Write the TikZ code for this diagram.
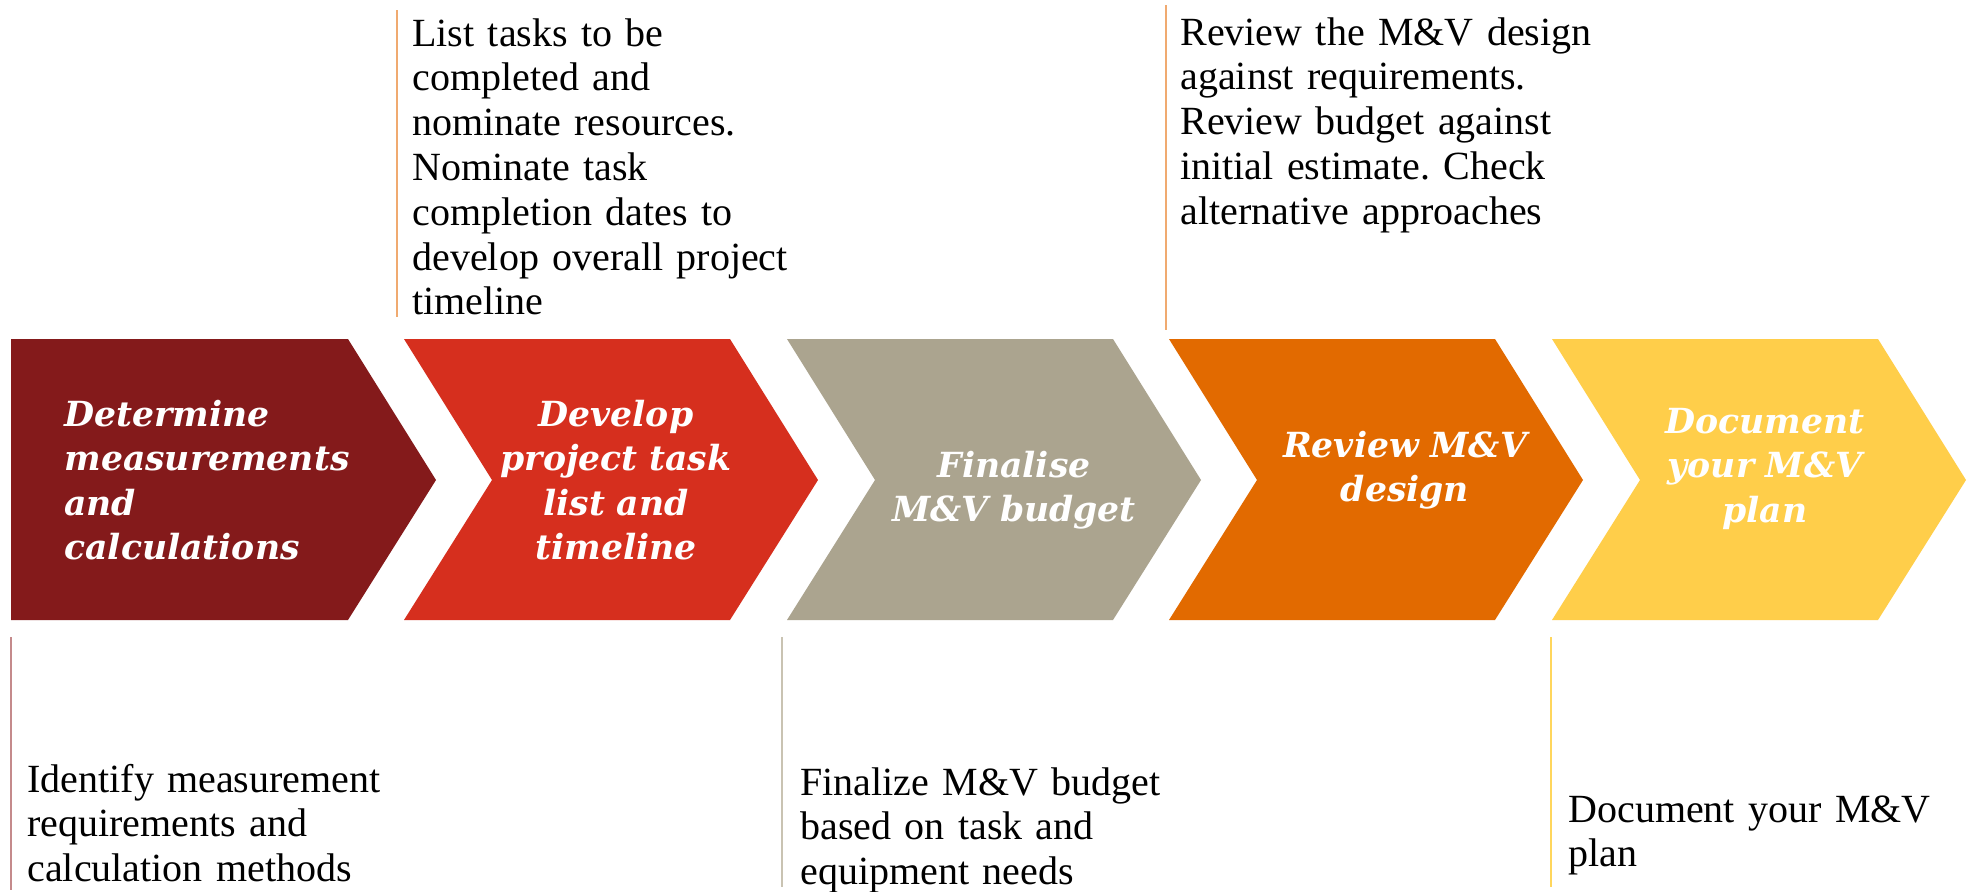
\documentclass[tikz,border=0pt]{standalone}
\usepackage{fontspec}
\setmainfont{Liberation Serif}
\newfontfamily\arrowfont{DejaVu Serif}
\definecolor{cA}{HTML}{841A1B}
\definecolor{cB}{HTML}{D62F1E}
\definecolor{cC}{HTML}{ABA48F}
\definecolor{cD}{HTML}{E26A00}
\definecolor{cE}{HTML}{FFCE4A}
\definecolor{lnOrange}{HTML}{F0AA70}
\definecolor{lnMaroon}{HTML}{C48A8B}
\definecolor{lnGrey}{HTML}{C9C3B2}
\definecolor{lnYellow}{HTML}{FFD65C}
\tikzset{
  bodytext/.style={inner sep=0pt, text width=210pt, align=left, text=black,
    font=\frenchspacing\fontsize{20pt}{22.4pt}\selectfont},
  arrowtext/.style={inner sep=0pt, text width=170pt, text=white,
    font=\frenchspacing\arrowfont\bfseries\itshape\fontsize{17.3pt}{22.25pt}\selectfont},
  guide/.style={line width=1pt}
}
\begin{document}
\begin{tikzpicture}[x=0.5pt,y=-0.5pt]
\useasboundingbox[fill=white] (0,0) rectangle (1967,891);
% chevrons
\fill[cA] (11,339) -- (348,339) -- (436,480) -- (348,620) -- (11,620) -- cycle;
\fill[cB] (404,339) -- (730,339) -- (818,480) -- (730,620) -- (404,620) -- (492,480) -- cycle;
\fill[cC] (787,339) -- (1113,339) -- (1201,480) -- (1113,620) -- (787,620) -- (875,480) -- cycle;
\fill[cD] (1169,339) -- (1495,339) -- (1583,480) -- (1495,620) -- (1169,620) -- (1257,480) -- cycle;
\fill[cE] (1552,339) -- (1878,339) -- (1966,480) -- (1878,620) -- (1552,620) -- (1640,480) -- cycle;
% guide lines
\draw[guide, lnOrange] (397,10) -- (397,317);
\draw[guide, lnOrange] (1166,5) -- (1166,330);
\draw[guide, lnMaroon] (11,637) -- (11,890);
\draw[guide, lnGrey] (782,637) -- (782,887);
\draw[guide, lnYellow] (1551,637) -- (1551,887);
% chevron labels
\node[arrowtext, align=left, anchor=base west] (n1) at (64,426)
  {Determine\\measurements\\and\\calculations};
\node[arrowtext, align=center, anchor=base] (n2) at (616,426)
  {Develop\\project task\\list and\\timeline};
\node[arrowtext, align=center, anchor=base] (n3) at (1014,477)
  {Finalise\\M\&V budget};
\node[arrowtext, align=center, anchor=base] (n4) at (1405,457)
  {Review M\&V\\design};
\node[arrowtext, align=center, anchor=base] (n5) at (1765,433)
  {Document\\your M\&V\\plan};
% descriptions
\node[bodytext, anchor=base west] (t2) at (412,46)
  {List tasks to be\\completed and\\nominate resources.\\Nominate task\\completion dates to\\develop overall project\\timeline};
\node[bodytext, anchor=base west] (t4) at (1180,45)
  {Review the M\&V design\\against requirements.\\Review budget against\\initial estimate. Check\\alternative approaches};
\node[bodytext, anchor=base west] (b1) at (27,792)
  {Identify measurement\\requirements and\\calculation methods};
\node[bodytext, anchor=base west] (b3) at (800,795)
  {Finalize M\&V budget\\based on task and\\equipment needs};
\node[bodytext, anchor=base west] (b5) at (1568,822)
  {Document your M\&V\\plan};
\end{tikzpicture}
\end{document}
